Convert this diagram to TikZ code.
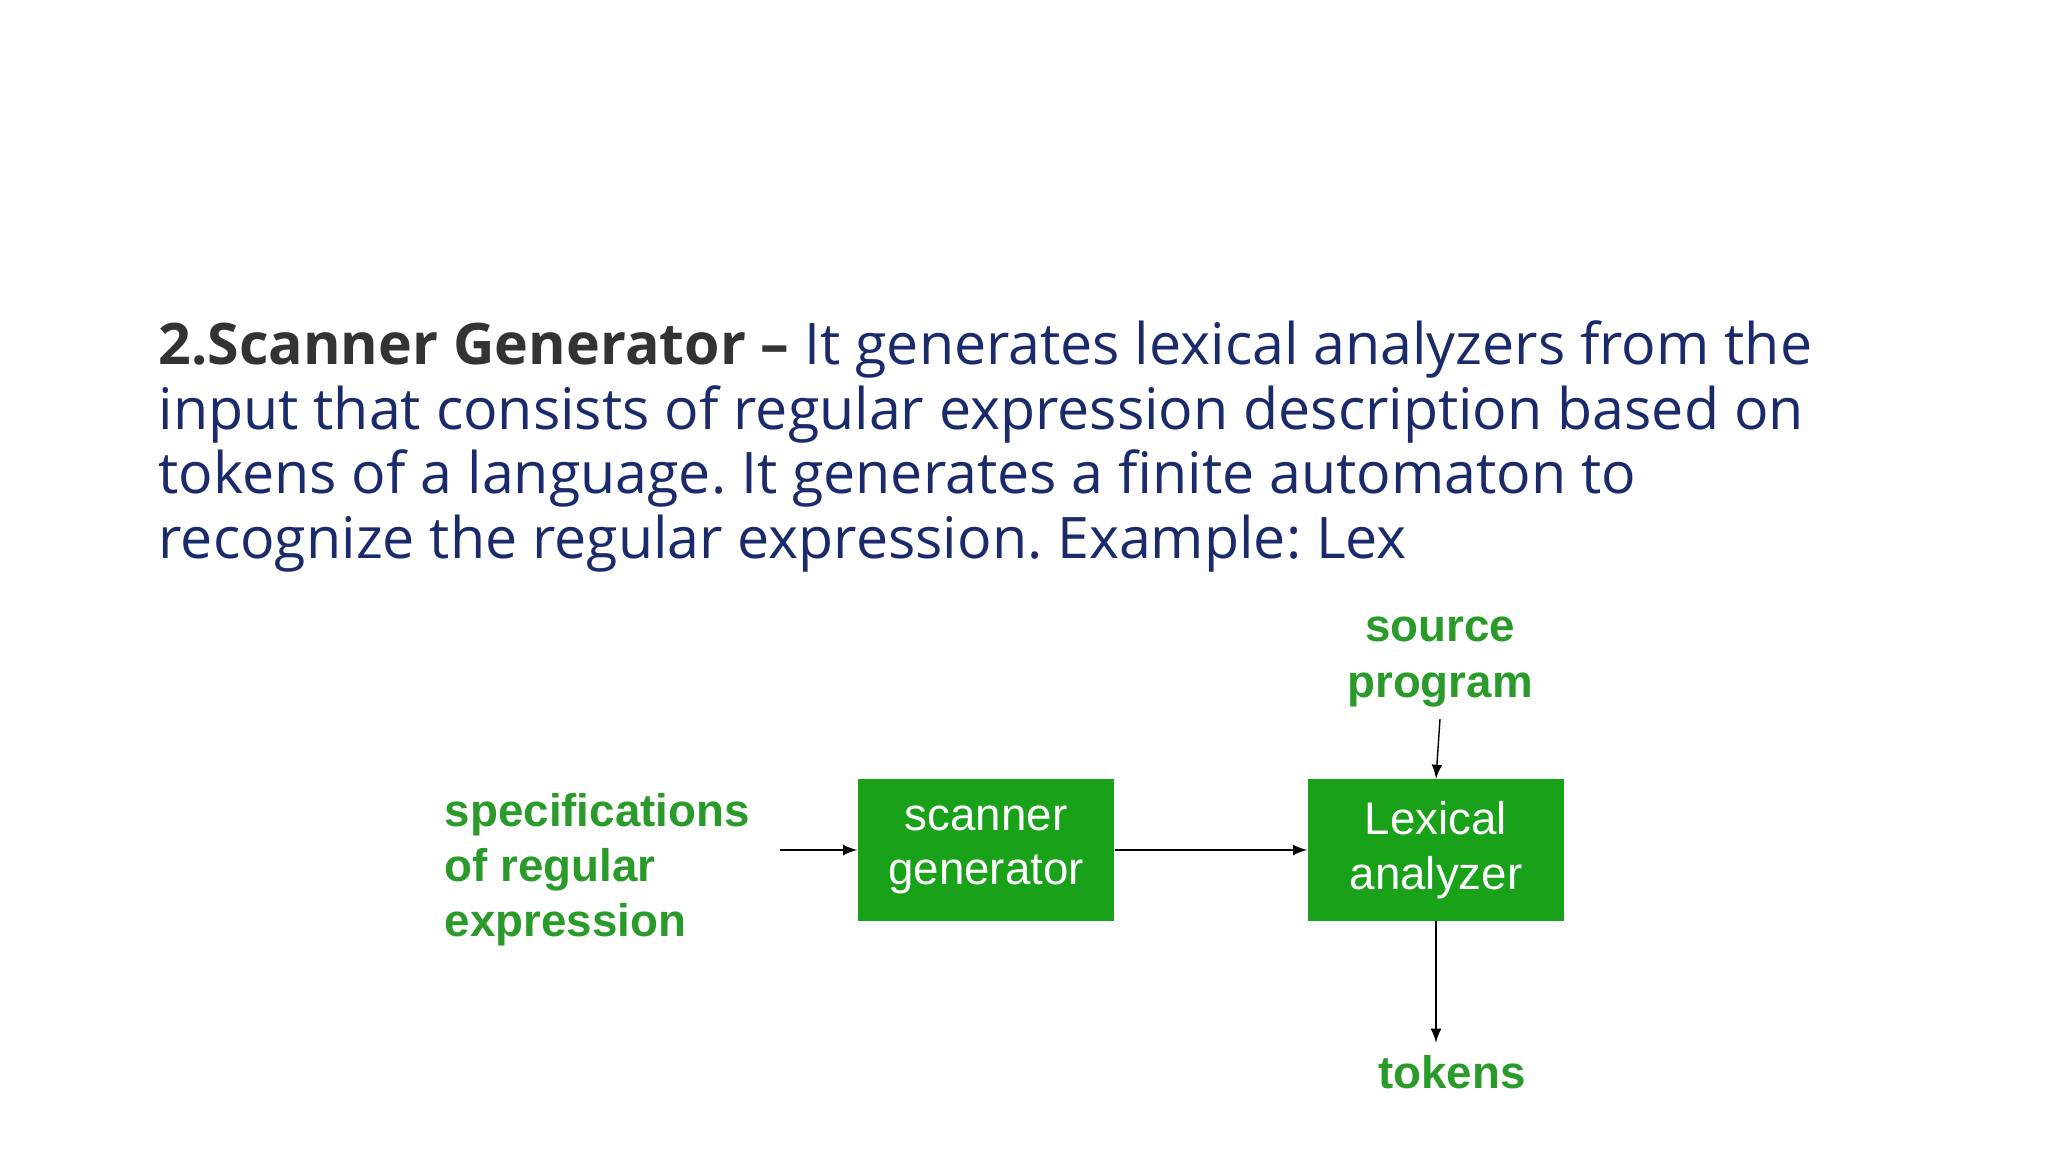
\documentclass[tikz,border=0pt]{standalone}
\usepackage{fontspec}
\setmainfont{Open Sans}
\newfontfamily\arialfont{Liberation Sans}
\usetikzlibrary{positioning}
\definecolor{navy}{HTML}{1B2A6B}
\definecolor{boldgray}{HTML}{333333}
\definecolor{gfgreen}{HTML}{1AA11A}
\definecolor{labelgreen}{HTML}{2A9A2A}
\frenchspacing

\begin{document}
\begin{tikzpicture}[
		box/.style={fill=gfgreen,text=white,minimum width=2.56cm,minimum height=1.41cm,align=center,font=\arialfont\fontsize{13}{15.5}\selectfont},
		lab/.style={text=labelgreen,align=left,font=\arialfont\bfseries\fontsize{13}{15.7}\selectfont},
		flow/.style={-latex,thin}
	]
	\useasboundingbox (0,0) rectangle (20.48,-11.52);
	% heading text
	\node[anchor=north west,inner sep=0,align=left,text=navy,font=\fontsize{16.3}{18.4}\selectfont] (desc) at (1.58,-3.2)
	{{\bfseries\color{boldgray}2.Scanner Generator –} It generates lexical analyzers from the\\
		input that consists of regular expression description based on\\
		tokens of a language. It generates a finite automaton to\\
		recognize the regular expression. Example: Lex};
	% diagram
	\node[box] (scan) at (9.86,-8.50) {scanner\\generator};
	\node[box] (lex) at (14.36,-8.50) {Lexical\\analyzer};
	\node[lab,anchor=east] (spec) at (7.62,-8.70) {specifications\\of regular\\expression};
	\node[lab,align=center] (src) at (14.40,-6.62) {source\\program};
	\node[lab] (tok) at (14.52,-10.72) {tokens};
	\coordinate (specout) at (7.80,-8.50);
	\draw[flow] (specout) -- (scan.west);
	\draw[flow] (scan.east) -- (lex.west);
	\draw[flow] (src.south) -- (lex.north);
	\draw[flow] (lex.south) -- (tok.north -| lex.south);
\end{tikzpicture}
\end{document}
